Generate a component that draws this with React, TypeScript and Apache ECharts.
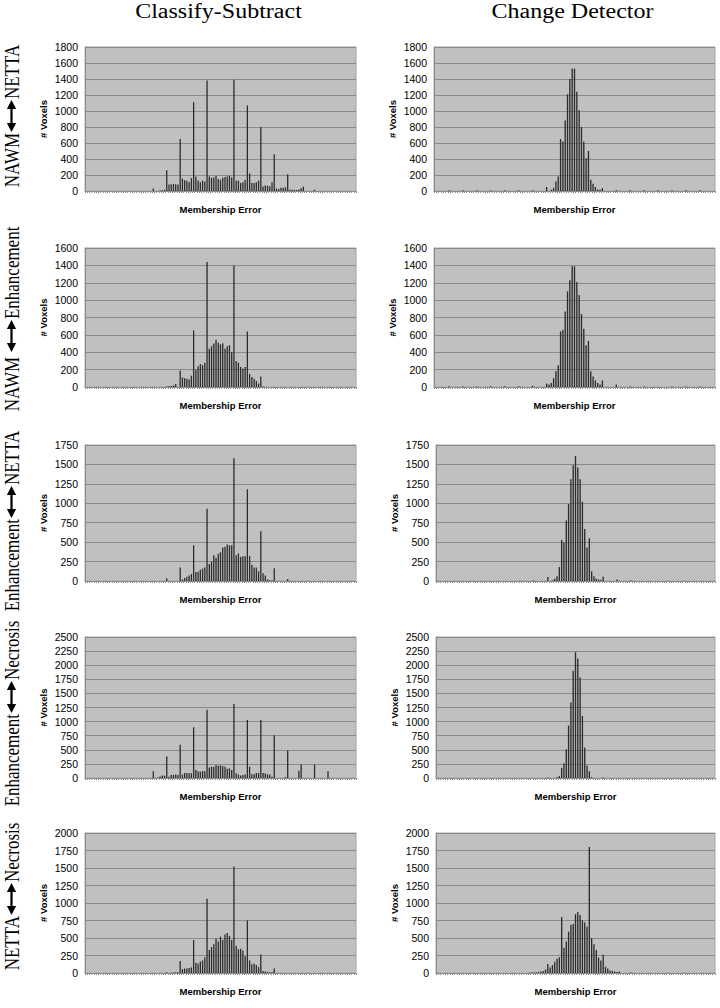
import React, { useEffect, useRef } from "react";
import * as echarts from "echarts";

// ---------- data ----------
const BIN_COUNT = 121;
const binLabels = Array.from({ length: BIN_COUNT }, (_, i) => ((i - 60) / 60).toFixed(3));

const columnTitles = ["Classify-Subtract", "Change Detector"];
const rowLabels = [
  ["NAWM", "NETTA"],
  ["NAWM", "Enhancement"],
  ["Enhancement", "NETTA"],
  ["Enhancement", "Necrosis"],
  ["NETTA", "Necrosis"],
];
const yMaxes = [1800, 1600, 1750, 2500, 2000];
const yIntervals = [200, 200, 250, 250, 250];

// Classify-Subtract histograms (first bin index, then counts)
const csNawmNettaStart = 30;
const csNawmNetta = [
  30, 0, 0, 5, 8, 15,
  260, 80, 85, 90, 85, 80,
  650, 155, 135, 128, 110, 160,
  1110, 180, 130, 110, 130, 120,
  1380, 180, 165, 170, 190, 150,
  140, 165, 175, 180, 190, 170,
  1390, 130, 130, 100, 110, 140,
  1070, 220, 100, 100, 110, 130,
  800, 55, 70, 65, 60, 110,
  460, 30, 25, 40, 40, 45,
  210, 15, 15, 15, 12, 20,
  35, 55, 0, 0, 0, 0,
  15,
];
const csNawmEnhStart = 36;
const csNawmEnh = [
  5, 8, 12, 18, 35, 0,
  190, 110, 100, 95, 85, 130,
  650, 200, 240, 265, 250, 280,
  1440, 440, 470, 500, 545, 510,
  490, 505, 440, 470, 480, 400,
  1400, 300, 280, 230, 210, 230,
  640, 150, 115, 95, 70, 40,
  120, 5,
];
const csEnhNettaStart = 36;
const csEnhNetta = [
  35, 0, 0, 0, 0, 0,
  175, 20, 40, 55, 70, 90,
  460, 115, 120, 145, 160, 175,
  930, 220, 250, 330, 300, 350,
  370, 430, 440, 470, 460, 460,
  1580, 330, 355, 310, 320, 320,
  1180, 320, 210, 175, 175, 125,
  640, 100, 70, 20, 10, 5,
  165, 0, 0, 0, 0, 0,
  25,
];
const csEnhNecStart = 30;
const csEnhNec = [
  120, 0, 10, 25, 45, 40,
  380, 20, 55, 55, 60, 55,
  590, 60, 90, 90, 85, 85,
  900, 140, 120, 110, 125, 120,
  1210, 185, 200, 195, 230, 215,
  225, 210, 200, 165, 170, 140,
  1310, 85, 60, 45, 55, 60,
  1030, 200, 65, 65, 90, 90,
  1030, 90, 80, 65, 60, 20,
  760, 0, 0, 0, 0, 15,
  490, 0, 0, 0, 0, 130,
  240, 0, 0, 0, 0, 0,
  240, 0, 0, 0, 0, 0,
  120,
];
const csNettaNecStart = 36;
const csNettaNec = [
  10, 0, 5, 8, 10, 10,
  170, 55, 65, 65, 70, 80,
  470, 145, 135, 165, 180, 225,
  1060, 330, 370, 410, 490, 450,
  520, 470, 550, 570, 530, 470,
  1520, 390, 340, 345, 320, 240,
  750, 180, 125, 135, 115, 85,
  265, 30, 20, 15, 10, 10,
  65,
];

// Change Detector histograms
const cdNawmNettaStart = 48;
const cdNawmNetta = [
  50, 0, 15, 40, 120, 180,
  650, 620, 880, 1210, 1400, 1530,
  1530, 1240, 1010, 800, 620, 410,
  500, 140, 90, 50, 20, 15,
  35,
];
const cdNawmNettaSparse = [[6, 8], [12, 8], [18, 8], [24, 8], [30, 8], [36, 8], [42, 8], [78, 8], [84, 8], [90, 8], [96, 8], [102, 8], [108, 8], [114, 8]];
const cdNawmEnhStart = 48;
const cdNawmEnh = [
  40, 30, 45, 100, 180, 250,
  640, 660, 870, 1100, 1230, 1390,
  1390, 1210, 1060, 840, 670, 480,
  530, 180, 120, 75, 45, 30,
  75, 0, 0, 0, 0, 0,
  30,
];
const cdNawmEnhSparse = [[6, 8], [12, 5], [18, 5], [24, 8], [30, 10], [36, 8], [42, 15], [84, 5], [90, 5], [102, 5], [108, 5], [114, 5]];
const cdEnhNettaStart = 48;
const cdEnhNetta = [
  50, 0, 10, 30, 60, 180,
  530, 500, 780, 990, 1310, 1490,
  1610, 1460, 1310, 1020, 670, 430,
  550, 125, 60, 30, 20, 15,
  55, 0, 0, 0, 0, 0,
  20, 0, 0, 0, 0, 0,
  8,
];
const cdEnhNettaSparse = [[36, 3], [42, 8]];
const cdEnhNecStart = 48;
const cdEnhNec = [
  10, 0, 0, 0, 15, 35,
  180, 260, 510, 930, 1340, 1900,
  2230, 2120, 1780, 1100, 540, 220,
  120, 15, 0, 0, 0, 0,
  10,
];
const cdNettaNecStart = 40;
const cdNettaNec = [
  5, 8,
  8, 10, 15, 20, 30, 50,
  130, 80, 115, 160, 205, 225,
  800, 360, 450, 590, 690, 700,
  840, 870, 830, 750, 720, 660,
  1800, 500, 410, 330, 220, 180,
  260, 90, 65, 35, 30, 20,
  15, 20, 0, 0, 0, 0,
  8,
];

function histogram(start: number, values: number[], sparse: number[][] = []) {
  const out = new Array(BIN_COUNT).fill(0);
  values.forEach((v, k) => (out[start + k] = v));
  sparse.forEach(([i, v]) => (out[i] = v));
  return out;
}

const panels = [
  [histogram(csNawmNettaStart, csNawmNetta), histogram(cdNawmNettaStart, cdNawmNetta, cdNawmNettaSparse)],
  [histogram(csNawmEnhStart, csNawmEnh), histogram(cdNawmEnhStart, cdNawmEnh, cdNawmEnhSparse)],
  [histogram(csEnhNettaStart, csEnhNetta), histogram(cdEnhNettaStart, cdEnhNetta, cdEnhNettaSparse)],
  [histogram(csEnhNecStart, csEnhNec), histogram(cdEnhNecStart, cdEnhNec)],
  [histogram(csNettaNecStart, csNettaNec), histogram(cdNettaNecStart, cdNettaNec)],
];

// ---------- layout ----------
const plotTops = [47, 248, 445, 637, 833];
const plotBottoms = [191, 387, 581, 778, 973];
const colLefts = [[85, 434], [85, 434], [85, 436], [85, 436], [85, 436]];
const colRights = [356, 715];
const arrowCenters = [116, 336, 502, 697, 899];
const arrowGapsBelow = [1, 5, 1, 1, 1];
const ARROW_LEN = 32;
const LABEL_X = 12.2;
const LABEL_FONT = 21.5;
const LABEL_SCALE = 0.79;

const SANS = "'Liberation Sans', Arial, sans-serif";
const SERIF = "'Liberation Serif', 'Times New Roman', serif";

function buildOption() {
  const grid: any[] = [];
  const xAxis: any[] = [];
  const yAxis: any[] = [];
  const series: any[] = [];
  let idx = 0;
  for (let r = 0; r < 5; r++) {
    for (let c = 0; c < 2; c++) {
      const left = colLefts[r][c];
      grid.push({
        left,
        top: plotTops[r],
        width: colRights[c] - left,
        height: plotBottoms[r] - plotTops[r],
        show: true,
        backgroundColor: "#c0c0c0",
        borderColor: "#a4a4a4",
        borderWidth: 1,
      });
      xAxis.push({
        type: "category",
        gridIndex: idx,
        data: binLabels,
        axisLine: { show: true, lineStyle: { color: "#8c8c8c", width: 1 } },
        axisTick: { show: true, interval: 0, length: 2, lineStyle: { color: "#8c8c8c" } },
        axisLabel: { show: false },
        splitLine: { show: false },
        name: "Membership Error",
        nameLocation: "middle",
        nameGap: 13,
        nameTextStyle: { fontFamily: SANS, fontWeight: "bold", fontSize: 9.5, color: "#000" },
      });
      yAxis.push({
        type: "value",
        gridIndex: idx,
        min: 0,
        max: yMaxes[r],
        interval: yIntervals[r],
        axisLine: { show: true, lineStyle: { color: "#8c8c8c" } },
        axisTick: { show: false },
        axisLabel: {
          fontFamily: SANS,
          fontSize: 10.5,
          color: "#000",
          margin: 7,
          formatter: (v: number) => String(v),
        },
        splitLine: { show: true, lineStyle: { color: "#8a8a8a", width: 1 } },
        name: "# Voxels",
        nameLocation: "middle",
        nameRotate: 90,
        nameGap: 37,
        nameTextStyle: { fontFamily: SANS, fontWeight: "bold", fontSize: 9.5, color: "#000" },
      });
      series.push({
        type: "bar",
        xAxisIndex: idx,
        yAxisIndex: idx,
        data: panels[r][c],
        barCategoryGap: "42%",
        itemStyle: { color: "#2c2c2c" },
        silent: true,
      });
      idx++;
    }
  }

  const graphic: any[] = [];
  const titleCenters = [218.5, 572.5];
  columnTitles.forEach((t, c) => {
    graphic.push({
      type: "text",
      x: titleCenters[c],
      y: 11,
      scaleY: 0.9,
      style: { text: t, fontSize: 24, fontFamily: SERIF, fill: "#000", align: "center", verticalAlign: "middle" },
    });
  });

  rowLabels.forEach(([bottom, top], r) => {
    const cy = arrowCenters[r];
    const y1 = cy - ARROW_LEN / 2;
    const y2 = cy + ARROW_LEN / 2;
    const hl = 9;
    const hw = 4.6;
    const sw = 1.1;
    const cx = 11.5;
    graphic.push({
      type: "polygon",
      shape: {
        points: [
          [cx, y1], [cx + hw, y1 + hl], [cx + sw, y1 + hl], [cx + sw, y2 - hl], [cx + hw, y2 - hl],
          [cx, y2], [cx - hw, y2 - hl], [cx - sw, y2 - hl], [cx - sw, y1 + hl], [cx - hw, y1 + hl],
        ],
      },
      style: { fill: "#000" },
    });
    graphic.push({
      type: "text",
      x: LABEL_X,
      y: y2 + arrowGapsBelow[r],
      rotation: Math.PI / 2,
      scaleX: LABEL_SCALE,
      style: { text: bottom, fontSize: LABEL_FONT, lineHeight: 16, fontFamily: SERIF, fill: "#000", align: "right", verticalAlign: "middle" },
    });
    graphic.push({
      type: "text",
      x: LABEL_X,
      y: y1 - 1,
      rotation: Math.PI / 2,
      scaleX: LABEL_SCALE,
      style: { text: top, fontSize: LABEL_FONT, lineHeight: 16, fontFamily: SERIF, fill: "#000", align: "left", verticalAlign: "middle" },
    });
  });

  return {
    animation: false,
    backgroundColor: "#ffffff",
    grid,
    xAxis,
    yAxis,
    series,
    graphic,
  };
}

export default function App() {
  const ref = useRef<HTMLDivElement>(null);
  useEffect(() => {
    if (!ref.current) return;
    const chart = echarts.init(ref.current, undefined, { renderer: "svg" });
    chart.setOption(buildOption() as any);
    return () => chart.dispose();
  }, []);
  return <div ref={ref} style={{ position: "absolute", left: 0, top: 0, width: 720, height: 1008, background: "#fff" }} />;
}
